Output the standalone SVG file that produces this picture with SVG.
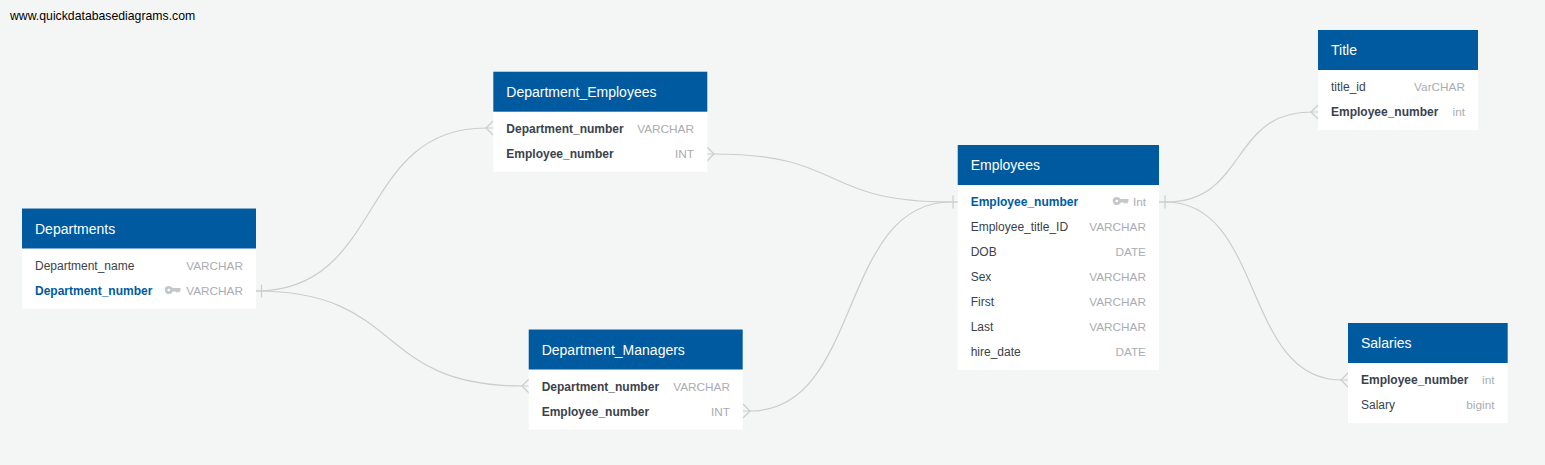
<svg xmlns="http://www.w3.org/2000/svg" width="1545" height="465" viewBox="0 0 1545 465">
<style>
.bg{fill:#f4f6f5}
.body{fill:#fff}
.head{fill:#005a9f}
text{font-family:"Liberation Sans",Arial,sans-serif;font-size:12px}
.t{fill:#fff;font-size:14px}
.n{fill:#3c424a}
.b{fill:#3a424c;font-weight:bold}
.p{fill:#005a9f;font-weight:bold}
.y{fill:#a9adb2;text-anchor:end;font-size:11.8px}
.c{fill:none;stroke:#cacdcc;stroke-width:1.2}
.k{fill:#c5c8cb}
.u{font-size:12.25px;fill:#000}
</style>
<defs>
<g id="key"><circle cx="3.800" cy="0" r="2.700" fill="none" stroke="#c5c8cb" stroke-width="2.800"/><path class="k" d="M6.500-1.900H15.500V.6L14.200 2.800 13 1.400 11.800 2.800 10.500 1.400H6.500z"/></g>
</defs>
<rect class="bg" width="1545" height="465"/>
<text class="u" x="10" y="20">www.quickdatabasediagrams.com</text>
<g id="connectors">
<path class="c" d="M256 291C385 291 357 128 486 128H493"/>
<path class="c" d="M256 291C405 291 373 386 522 386H529"/>
<path class="c" d="M707 154H714C847 154 818 202 951 202H958"/>
<path class="c" d="M743 411H750C863 411 838 202 951 202H958"/>
<path class="c" d="M1159 202H1166C1247 202 1230 112 1311 112H1318"/>
<path class="c" d="M1159 202H1166C1264 202 1243 380 1341 380H1348"/>
<path class="c" d="M261.500 284.500V297.500M953 195.500V208.500M1165 195.500V208.500"/>
<path class="c" d="M493 121L486 128L493 135M707 147L714 154L707 161M529 379L522 386L529 393M743 404L750 411L743 418M1318 105L1311 112L1318 119M1348 373L1341 380L1348 387"/>
</g>
<g id="Departments"><rect class="body" x="22" y="208.500" width="234" height="100"/><rect class="head" x="22" y="208.500" width="234" height="40"/>
<text class="t" x="35" y="234">Departments</text>
<text class="n" x="35" y="270">Department_name</text><text class="y" x="243" y="270">VARCHAR</text>
<text class="p" x="35" y="295">Department_number</text><use href="#key" x="165" y="290"/><text class="y" x="243" y="295">VARCHAR</text></g>
<g id="Department_Employees"><rect class="body" x="493.300" y="71.700" width="214" height="100"/><rect class="head" x="493.300" y="71.700" width="214" height="40"/>
<text class="t" x="506.300" y="97">Department_Employees</text>
<text class="b" x="506.300" y="133">Department_number</text><text class="y" x="694" y="133">VARCHAR</text>
<text class="b" x="506.300" y="158">Employee_number</text><text class="y" x="694" y="158">INT</text></g>
<g id="Department_Managers"><rect class="body" x="528.700" y="329.500" width="214" height="100"/><rect class="head" x="528.700" y="329.500" width="214" height="40"/>
<text class="t" x="541.700" y="355">Department_Managers</text>
<text class="b" x="541.700" y="391">Department_number</text><text class="y" x="730" y="391">VARCHAR</text>
<text class="b" x="541.700" y="416">Employee_number</text><text class="y" x="730" y="416">INT</text></g>
<g id="Employees"><rect class="body" x="957.700" y="145" width="201.300" height="225"/><rect class="head" x="957.700" y="145" width="201.300" height="40"/>
<text class="t" x="970.700" y="170">Employees</text>
<text class="p" x="970.700" y="206">Employee_number</text><use href="#key" x="1113" y="201"/><text class="y" x="1146" y="206">Int</text>
<text class="n" x="970.700" y="231">Employee_title_ID</text><text class="y" x="1146" y="231">VARCHAR</text>
<text class="n" x="970.700" y="256">DOB</text><text class="y" x="1146" y="256">DATE</text>
<text class="n" x="970.700" y="281">Sex</text><text class="y" x="1146" y="281">VARCHAR</text>
<text class="n" x="970.700" y="306">First</text><text class="y" x="1146" y="306">VARCHAR</text>
<text class="n" x="970.700" y="331">Last</text><text class="y" x="1146" y="331">VARCHAR</text>
<text class="n" x="970.700" y="356">hire_date</text><text class="y" x="1146" y="356">DATE</text></g>
<g id="Title"><rect class="body" x="1318" y="30" width="160" height="100"/><rect class="head" x="1318" y="30" width="160" height="40"/>
<text class="t" x="1331" y="55">Title</text>
<text class="n" x="1331" y="91">title_id</text><text class="y" x="1465" y="91">VarCHAR</text>
<text class="b" x="1331" y="116">Employee_number</text><text class="y" x="1465" y="116">int</text></g>
<g id="Salaries"><rect class="body" x="1348" y="323" width="159.700" height="100"/><rect class="head" x="1348" y="323" width="159.700" height="40"/>
<text class="t" x="1361" y="348">Salaries</text>
<text class="b" x="1361" y="384">Employee_number</text><text class="y" x="1494.500" y="384">int</text>
<text class="n" x="1361" y="409">Salary</text><text class="y" x="1494.500" y="409">bigint</text></g>
</svg>
